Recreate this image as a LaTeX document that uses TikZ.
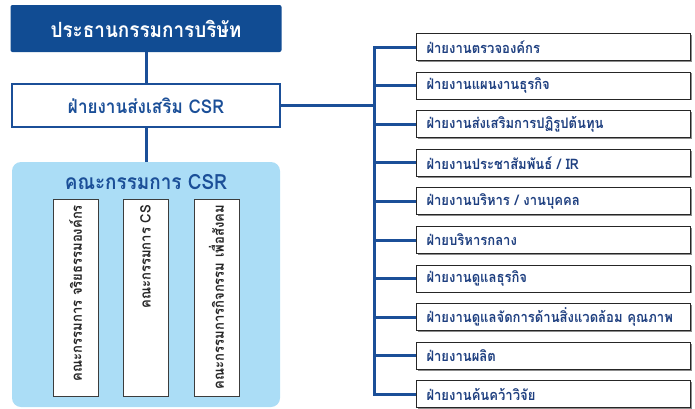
\documentclass[tikz,border=0pt]{standalone}
\usepackage{fontspec}
\newfontfamily\thaifont[Script=Thai, FakeStretch=0.9]{Loma}
\usetikzlibrary{positioning,calc,shadows}

\definecolor{navy}{HTML}{114C93}
\definecolor{lineblue}{HTML}{1B4F98}
\definecolor{skyfill}{HTML}{ABDDF6}
\definecolor{boxgray}{HTML}{3C3C3C}
\definecolor{deptblue}{HTML}{1E3F80}

\tikzset{
  chair/.style={fill=navy, rounded corners=2pt, minimum width=271pt, minimum height=47pt,
    text=white, font=\thaifont\bfseries\fontsize{21}{24}\selectfont},
  unit/.style={draw=lineblue, line width=2.4pt, fill=white, minimum width=268pt,
    minimum height=43pt, text=lineblue, font=\thaifont\bfseries\fontsize{19}{22}\selectfont},
  panel/.style={fill=skyfill, rounded corners=9pt, minimum width=268pt, minimum height=245pt},
  cmte/.style={draw=boxgray, line width=1pt, fill=white, rotate=90, minimum width=197pt,
    minimum height=45pt, text width=185pt, align=right, inner xsep=6pt,
    text=black!85, font=\thaifont\bfseries\fontsize{14.5}{16}\selectfont},
  dept/.style={draw=black!85, line width=1pt, fill=white, anchor=west, minimum height=27pt,
    text width=254pt, inner xsep=10pt, align=left, text=deptblue,
    drop shadow={shadow xshift=1.2pt, shadow yshift=-1.2pt, fill=black!45, opacity=1},
    font=\thaifont\bfseries\fontsize{14.5}{16}\selectfont},
  link/.style={lineblue, line width=3pt},
}

\begin{document}
\begin{tikzpicture}[x=1pt, y=-1pt]
  \useasboundingbox (0,0) rectangle (695,408);

  % board and CSR unit
  \node[chair] (chair) at (146,28.5) {ประธานกรรมการบริษัท};
  \node[unit] (csr) at (146,105.5) {ฝ่ายงานส่งเสริม CSR};
  \draw[link] (chair.south) -- (csr.north);

  % committee panel
  \node[panel] (panel) at (146,284.5) {};
  \draw[link] (csr.south) -- (panel.north);
  \node[text=lineblue, font=\thaifont\bfseries\fontsize{21}{24}\selectfont] (ctitle) at (146,182) {คณะกรรมการ CSR};
  \node[cmte] (ethics) at (75.5,297.5) {คณะกรรมการ จริยธรรมองค์กร};
  \node[cmte] (cs) at (145.5,297.5) {คณะกรรมการ CS};
  \node[cmte] (social) at (216.5,297.5) {คณะกรรมการกิจกรรม เพื่อสังคม};

  % departments
  \node[dept] (d1) at (416,47) {ฝ่ายงานตรวจองค์กร};
  \node[dept] (d2) at (416,85.6) {ฝ่ายงานแผนงานธุรกิจ};
  \node[dept] (d3) at (416,124.2) {ฝ่ายงานส่งเสริมการปฏิรูปต้นทุน};
  \node[dept] (d4) at (416,162.8) {ฝ่ายงานประชาสัมพันธ์ / IR};
  \node[dept] (d5) at (416,201.4) {ฝ่ายงานบริหาร / งานบุคคล};
  \node[dept] (d6) at (416,240) {ฝ่ายบริหารกลาง};
  \node[dept] (d7) at (416,278.6) {ฝ่ายงานดูแลธุรกิจ};
  \node[dept] (d8) at (416,317.2) {ฝ่ายงานดูแลจัดการด้านสิ่งแวดล้อม คุณภาพ};
  \node[dept] (d9) at (416,355.8) {ฝ่ายงานผลิต};
  \node[dept] (d10) at (416,394.4) {ฝ่ายงานค้นคว้าวิจัย};

  \coordinate (bus) at (374,105.5);
  \draw[link] (csr.east) -- (bus);
  \draw[link] (d1.west) -| (bus |- d10.west) -- (d10.west);
  \draw[link] (bus |- d2.west) -- (d2.west)
    (bus |- d3.west) -- (d3.west)
    (bus |- d4.west) -- (d4.west)
    (bus |- d5.west) -- (d5.west)
    (bus |- d6.west) -- (d6.west)
    (bus |- d7.west) -- (d7.west)
    (bus |- d8.west) -- (d8.west)
    (bus |- d9.west) -- (d9.west);
\end{tikzpicture}
\end{document}
